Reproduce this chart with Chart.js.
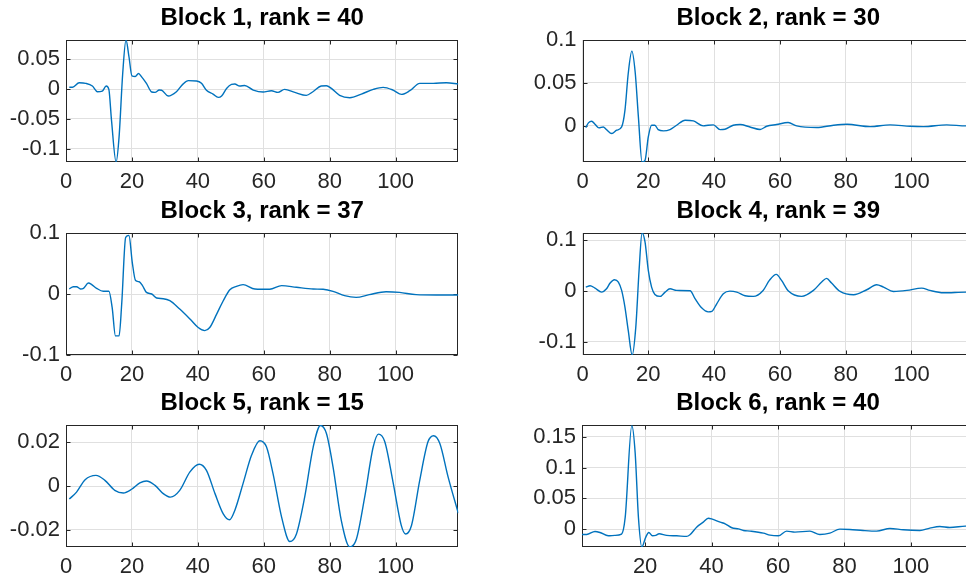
<!DOCTYPE html>
<html>
<head>
<meta charset="utf-8">
<script src="https://cdn.jsdelivr.net/npm/chart.js@4.4.0/dist/chart.umd.min.js"></script>
<style>
  html, body { margin: 0; padding: 0; background: #fff; overflow: hidden; }
  body { width: 966px; height: 581px; position: relative; }
  canvas { position: absolute; }
</style>
</head>
<body>
<canvas id="block1" width="470" height="192" style="left:0px;top:0px"></canvas>
<canvas id="block2" width="460" height="192" style="left:520px;top:0px"></canvas>
<canvas id="block3" width="470" height="192" style="left:0px;top:193px"></canvas>
<canvas id="block4" width="460" height="192" style="left:520px;top:193px"></canvas>
<canvas id="block5" width="470" height="192" style="left:0px;top:385px"></canvas>
<canvas id="block6" width="460" height="192" style="left:520px;top:385px"></canvas>
<script>
// sample index / filter coefficient per block
const b1x = [1, 2, 4, 6, 8, 9.5, 11, 12.2, 13, 13.8, 15.2, 16.1, 17.2, 18.2, 19.1, 20, 21, 22, 23, 24.4,
             26, 27, 28.3, 29, 31, 33.5, 35.4, 37.1, 39.6, 41.1, 42.6, 44.6, 46.2, 47.2, 48.7, 50.2, 51.2, 52.7, 54.2, 56.8,
             59.8, 62.3, 64.3, 66.3, 69.4, 72.9, 74.9, 77.4, 79, 80.5, 83, 86.1, 89.6, 93.2, 96.2, 99.2, 101.8, 104.3, 107.3, 111.4,
             115.4, 119];
const b1y = [0.003, 0.003, 0.0105, 0.0095, 0.005, -0.0045, -0.0034, 0.005, -0.0006, -0.052, -0.122, -0.08, 0.026, 0.082, 0.054, 0.022, 0.021, 0.026, 0.02, 0.0095,
             -0.005, -0.0056, -0.0017, -0.002, -0.0117, -0.0045, 0.0078, 0.014, 0.0134, 0.0095, -0.002, -0.0084, -0.014, -0.0117, 0.001, 0.0078, 0.0084, 0.005, 0.006, -0.0017,
             -0.005, -0.0028, -0.0056, -0.0006, -0.0056, -0.0106, -0.0045, 0.005, 0.0056, 0.001, -0.0106, -0.0145, -0.0084, -0.0006, 0.0028, -0.0017, -0.009, -0.0028, 0.0095, 0.0095,
             0.0106, 0.0084];

const b2x = [1, 1.8, 2.8, 3.8, 5, 6.3, 7.3, 8.9, 10.4, 11.9, 12.9, 13.9, 15, 16, 17, 18.1, 19, 20, 21, 22,
             23, 24.6, 26.6, 28.6, 31.2, 33.7, 36.7, 38.2, 39.8, 41.8, 43.3, 45.8, 47.9, 50.9, 54, 56, 59, 62.5, 65.1, 71.2,
             76.3, 80.4, 87.4, 93.5, 99.6, 103.6, 110.7, 116.6, 119];
const b2y = [-0.0019, 0.0035, 0.0054, 0.0019, -0.0023, -0.0012, -0.0043, -0.0089, -0.005, -0.0012, 0.018, 0.061, 0.087, 0.063, 0.010, -0.042, -0.04, -0.0128, 0.0008, 0.0008,
             -0.0043, -0.0058, -0.0043, 0.0008, 0.0066, 0.0058, 0, 0.0008, 0.0012, -0.0043, -0.0039, 0.0008, 0.0016, -0.0012, -0.0041, -0.0004, 0.0016, 0.0039, 0, -0.0019,
             0.0008, 0.0019, -0.0008, 0.0012, -0.0004, -0.0008, 0.0012, 0, 0];

const b3x = [1, 2.2, 3.2, 4.4, 5.3, 6.8, 7.8, 9.3, 11.3, 13, 14, 15, 16.1, 16.9, 18.1, 19.1, 20.1, 21.1, 22.2, 23.2,
             24.4, 26, 27.5, 29.5, 31.5, 34.5, 37.6, 40.1, 42.1, 43.6, 45.7, 47.7, 49.7, 51.7, 53.7, 57.3, 61.8, 65.4, 69.9, 75,
             78, 81, 84.5, 88, 92, 97.1, 101.2, 106.2, 112.3, 119];
const b3y = [0.0082, 0.012, 0.012, 0.0082, 0.0093, 0.018, 0.0154, 0.0093, 0.0044, 0.0044, -0.022, -0.0686, -0.0686, -0.016, 0.093, 0.096, 0.052, 0.022, 0.020, 0.0137,
             0.0027, 0, -0.0066, -0.0077, -0.011, -0.0247, -0.041, -0.055, -0.060, -0.055, -0.033, -0.011, 0.007, 0.0126, 0.0154, 0.0082, 0.0077, 0.0137, 0.011, 0.0082,
             0.0077, 0.0044, -0.0027, -0.0055, -0.0011, 0.0038, 0.0027, -0.0011, -0.0016, -0.0016];

const b4x = [1, 2.3, 3.8, 5.8, 7.3, 8.4, 9.7, 10.9, 11.9, 12.9, 13.9, 15.1, 16.2, 17.2, 18.1, 19, 20, 21, 22, 23.6,
             25.1, 26.6, 28.6, 32.7, 34.2, 36.2, 38.2, 39.3, 40.8, 42.8, 44.8, 46.9, 49.4, 51.9, 54.9, 56.8, 58.9, 60.5, 62.6, 66.6,
             70.2, 72.7, 74.2, 75.7, 78.3, 82.4, 86.4, 89.4, 91.5, 94.5, 98.6, 103.1, 105.6, 109.7, 116.6, 119];
const b4y = [0.0079, 0.0105, 0.0059, -0.002, 0.0046, 0.0158, 0.0224, 0.0178, 0.0013, -0.0316, -0.0776, -0.126, -0.071, 0.041, 0.1145, 0.097, 0.041, 0.0079, -0.0066, -0.0105,
             -0.002, 0.0046, 0.0013, 0.0007, -0.015, -0.033, -0.041, -0.040, -0.025, -0.0053, 0, -0.002, -0.0092, -0.0105, 0.0013, 0.021, 0.033, 0.021, 0, -0.0105,
             0.0013, 0.0178, 0.025, 0.0158, -0.0007, -0.0072, 0.0026, 0.0125, 0.0079, -0.0007, 0.0013, 0.0059, 0.0013, -0.0033, -0.002, -0.002];

const b5x = [1, 3.2, 5.8, 9.1, 11.8, 14.8, 17.4, 19.9, 22.4, 24.4, 27, 29.5, 31.7, 34.5, 37.6, 40.4, 42.6, 45.2, 47.7, 49.6,
             51.2, 53.7, 56.3, 58.8, 60.8, 62.8, 65.4, 67.9, 69.9, 72.4, 75, 77.2, 79, 81, 83.5, 86.1, 88.1, 90.6, 93.2, 94.8,
             96.7, 99.2, 101.7, 103, 104.8, 107.3, 109.8, 111.5, 113.4, 115.9, 119];
const b5y = [-0.006, -0.0028, 0.0029, 0.0049, 0.0026, -0.002, -0.0032, -0.0015, 0.0014, 0.0023, 0.0003, -0.0035, -0.0051, -0.002, 0.0065, 0.010, 0.0072, -0.0035, -0.0128, -0.0155,
             -0.0112, 0.0011, 0.0142, 0.0208, 0.018, 0.0057, -0.0143, -0.0255, -0.022, -0.0051, 0.018, 0.0278, 0.0241, 0.0088, -0.0158, -0.028, -0.0243, -0.0051, 0.018, 0.0238,
             0.0203, 0.0018, -0.0181, -0.022, -0.0181, 0.0026, 0.0203, 0.0231, 0.0195, 0.0042, -0.0125];

const b6x = [1, 2.4, 4.9, 6.4, 8.9, 10.9, 12.9, 14, 16, 17, 18, 19, 20.2, 21.1, 22.2, 23.2, 24.2, 26.5, 29.5, 32.5,
             33.5, 35.5, 37.5, 39, 40, 42.6, 44.1, 46.1, 48.1, 49.6, 51.6, 55.6, 57.6, 60.1, 62.6, 65.1, 69.6, 72.6, 75.6, 78.6,
             81.6, 85.6, 89.7, 93.7, 97.7, 102.7, 105.7, 108.7, 111.7, 116.4, 119];
const b6y = [-0.0086, -0.0086, -0.0038, -0.0054, -0.0108, -0.0102, -0.0081, 0.019, 0.168, 0.124, 0.018, -0.029, -0.0129, -0.0054, -0.0108, -0.0102, -0.0075, -0.0102, -0.0108, -0.0118,
             -0.0091, 0.0032, 0.0113, 0.0177, 0.0167, 0.0113, 0.0086, 0.0022, 0.0005, -0.0022, -0.0032, -0.0065, -0.0097, -0.0108, -0.0032, -0.0048, -0.0032, -0.0086, -0.0065, 0,
             -0.0005, -0.0022, -0.0032, 0.0011, -0.0011, -0.0022, 0.0016, 0.0043, 0.0027, 0.0048, 0.005];

// axis limits and tick labels
const xTicksFull = [0, 20, 40, 60, 80, 100];
const xTicksFrom1 = [20, 40, 60, 80, 100];
const yTicks1 = [-0.1, -0.05, 0, 0.05];
const yTicks2 = [0, 0.05, 0.1];
const yTicks3 = [-0.1, 0, 0.1];
const yTicks4 = [-0.1, 0, 0.1];
const yTicks5 = [-0.02, 0, 0.02];
const yTicks6 = [0, 0.05, 0.1, 0.15];

const FONT = "'Liberation Sans', Arial, Helvetica, sans-serif";
const LINE = '#0072BD';
const AXIS = '#262626';

// MATLAB-style box: full frame plus short inward tick marks
const boxFrame = {
    id: 'boxFrame',
    beforeDatasetsDraw(chart) {
        const { ctx, chartArea: a, scales } = chart;
        const L = Math.round(a.left) + 0.5, R = Math.round(a.right) - 0.5;
        const T = Math.round(a.top) + 0.5, B = Math.round(a.bottom) - 0.5;
        ctx.save();
        ctx.strokeStyle = AXIS;
        ctx.lineWidth = 1;
        ctx.beginPath();
        scales.x.ticks.forEach(t => {
            const px = Math.round(scales.x.getPixelForValue(t.value)) + 0.5;
            ctx.moveTo(px, B); ctx.lineTo(px, B - 4);
            ctx.moveTo(px, T); ctx.lineTo(px, T + 4);
        });
        scales.y.ticks.forEach(t => {
            const py = Math.round(scales.y.getPixelForValue(t.value)) + 0.5;
            ctx.moveTo(L, py); ctx.lineTo(L + 4, py);
            ctx.moveTo(R, py); ctx.lineTo(R - 4, py);
        });
        ctx.stroke();
        ctx.strokeRect(L, T, R - L, B - T);
        ctx.restore();
    }
};

function makeChart(id, title, xs, ys, xMin, yMin, yMax, xTicks, yTicks, axisW, padRight) {
    const ctx = document.getElementById(id).getContext('2d');
    return new Chart(ctx, {
        type: 'line',
        data: {
            datasets: [{
                data: xs.map((v, i) => ({ x: v, y: ys[i] })),
                borderColor: LINE,
                borderWidth: 1.4,
                pointRadius: 0,
                fill: false,
                cubicInterpolationMode: 'monotone',
            }]
        },
        options: {
            responsive: false,
            animation: false,
            layout: { padding: { left: 0, right: padRight, top: 0, bottom: 0 } },
            plugins: {
                legend: { display: false },
                tooltip: { enabled: false },
                title: {
                    display: true,
                    text: title,
                    fullSize: false,
                    color: '#000',
                    font: { family: FONT, size: 24, weight: 'bold' },
                    padding: { top: 3.6, bottom: 7.6 },
                },
            },
            scales: {
                x: {
                    type: 'linear',
                    min: xMin,
                    max: 119,
                    afterBuildTicks: s => { s.ticks = xTicks.map(v => ({ value: v })); },
                    afterFit: s => { s.height = 30; },
                    grid: { color: '#e0e0e0', drawTicks: false },
                    border: { display: false },
                    ticks: {
                        padding: 6.4, color: AXIS, maxRotation: 0, autoSkip: false,
                        font: { family: FONT, size: 22 },
                        callback: v => String(v),
                    },
                },
                y: {
                    type: 'linear',
                    min: yMin,
                    max: yMax,
                    afterBuildTicks: s => { s.ticks = yTicks.map(v => ({ value: v })); },
                    afterFit: s => { s.width = axisW; },
                    grid: { color: '#e0e0e0', drawTicks: false },
                    border: { display: false },
                    ticks: {
                        padding: 6, color: AXIS, autoSkip: false,
                        font: { family: FONT, size: 22 },
                        callback: v => String(v),
                    },
                },
            },
        },
        plugins: [boxFrame],
    });
}

makeChart('block1', 'Block 1, rank = 40', b1x, b1y, 0, -0.122, 0.082, xTicksFull, yTicks1, 66, 11.7);
makeChart('block2', 'Block 2, rank = 30', b2x, b2y, 0, -0.042, 0.1, xTicksFull, yTicks2, 62.5, 6);
makeChart('block3', 'Block 3, rank = 37', b3x, b3y, 0, -0.1, 0.1, xTicksFull, yTicks3, 66, 11.7);
makeChart('block4', 'Block 4, rank = 39', b4x, b4y, 0, -0.126, 0.1145, xTicksFull, yTicks4, 62.5, 6);
makeChart('block5', 'Block 5, rank = 15', b5x, b5y, 0, -0.028, 0.028, xTicksFull, yTicks5, 66, 11.7);
makeChart('block6', 'Block 6, rank = 40', b6x, b6y, 1, -0.029, 0.169, xTicksFrom1, yTicks6, 62, 6);
</script>
</body>
</html>
